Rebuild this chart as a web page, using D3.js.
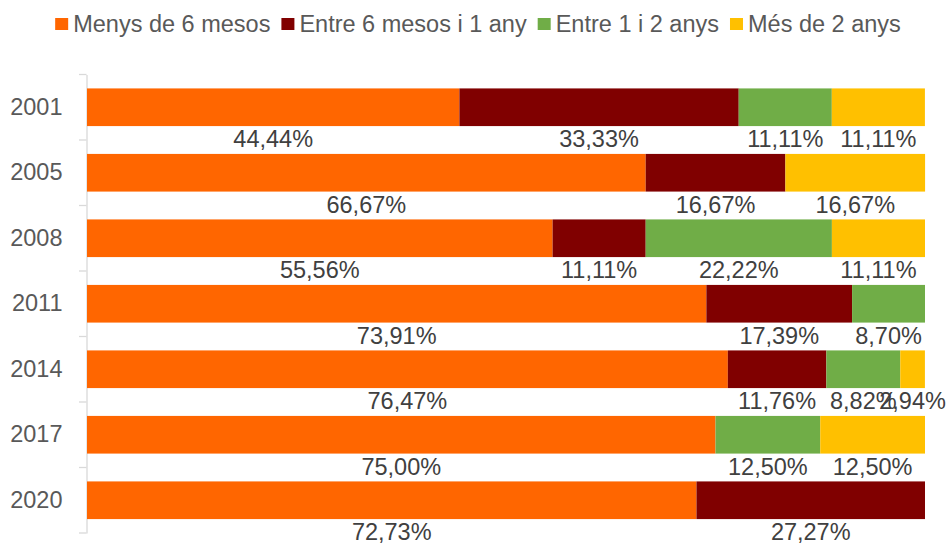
<!DOCTYPE html>
<html lang="ca">
<head>
<meta charset="UTF-8">
<title>Temps</title>
<script src="https://d3js.org/d3.v7.min.js"></script>
<style>
body { margin: 0; background: #fff; font-family: "Liberation Sans", Arial, Helvetica, sans-serif; }
</style>
</head>
<body>
<div id="chart"></div>
<script>
// categories and series
var years = ["2001", "2005", "2008", "2011", "2014", "2017", "2020"];
var seriesNames = ["Menys de 6 mesos", "Entre 6 mesos i 1 any", "Entre 1 i 2 anys", "Més de 2 anys"];
var colors = ["#FF6600", "#800000", "#70AD47", "#FFC000"];

var menys6 = [44.44, 66.67, 55.56, 73.91, 76.47, 75.00, 72.73];
var entre6i1 = [33.33, 16.67, 11.11, 17.39, 11.76, 0, 27.27];
var entre1i2 = [11.11, 0, 22.22, 8.70, 8.82, 12.50, 0];
var mes2 = [11.11, 16.67, 11.11, 0, 2.94, 12.50, 0];

var seriesValues = [menys6, entre6i1, entre1i2, mes2];

var W = 946, H = 544;
var margin = {top: 74.5, right: 21, bottom: 11, left: 87};
var fs = "23.5px";

var svg = d3.select("#chart").append("svg")
  .attr("width", W).attr("height", H);

// build rows for the stack
var rows = years.map(function(y, i) {
  var r = {year: y};
  seriesNames.forEach(function(s, k) { r[s] = seriesValues[k][i]; });
  return r;
});
var stacked = d3.stack().keys(seriesNames)(rows);

var x = d3.scaleLinear().domain([0, 100]).range([margin.left, W - margin.right]);
var y = d3.scaleBand().domain(years)
  .range([margin.top, H - margin.bottom])
  .paddingInner(0.425).paddingOuter(0.2125);

// y axis
var yAxis = svg.append("g")
  .attr("transform", "translate(" + (margin.left - 0.5) + ",0)")
  .call(d3.axisLeft(y).tickSize(0).tickPadding(24));
yAxis.select(".domain").attr("stroke", "#d9d9d9").attr("stroke-width", 1.3);
yAxis.selectAll("text").attr("fill", "#595959").style("font-size", fs)
  .style("font-family", "'Liberation Sans', Arial, sans-serif");

// tick marks between categories
var bounds = [margin.top].concat(years.map(function(d) { return y(d) + y.bandwidth() + y.step() * 0.2125; }));
svg.append("g").selectAll("line").data(bounds).join("line")
  .attr("x1", margin.left - 8).attr("x2", margin.left - 0.5)
  .attr("y1", function(d) { return d; }).attr("y2", function(d) { return d; })
  .attr("stroke", "#d9d9d9").attr("stroke-width", 1.3);

// bars
var layers = svg.append("g").selectAll("g").data(stacked).join("g")
  .attr("fill", function(d, i) { return colors[i]; });
layers.selectAll("rect").data(function(d) { return d; }).join("rect")
  .attr("x", function(d) { return x(d[0]); })
  .attr("y", function(d) { return y(d.data.year); })
  .attr("width", function(d) { return x(d[1]) - x(d[0]); })
  .attr("height", y.bandwidth());

// data labels below each segment
var fmt = function(v) { return v.toFixed(2).replace(".", ",") + "%"; };
var labels = svg.append("g");
stacked.forEach(function(layer) {
  layer.forEach(function(d) {
    var v = d[1] - d[0];
    if (v <= 0) return;
    labels.append("text")
      .attr("x", x((d[0] + d[1]) / 2))
      .attr("y", y(d.data.year) + y.bandwidth() + 21)
      .attr("text-anchor", "middle")
      .attr("fill", "#404040")
      .style("font-size", fs)
      .text(fmt(v));
  });
});

// legend
var legend = svg.append("g");
var lx = 0;
seriesNames.forEach(function(s, i) {
  var g = legend.append("g").attr("transform", "translate(" + lx + ",0)");
  g.append("rect").attr("x", 0).attr("y", 18).attr("width", 13).attr("height", 12).attr("fill", colors[i]);
  var t = g.append("text").attr("x", 18).attr("y", 31.5)
    .attr("fill", "#595959").style("font-size", fs).text(s);
  lx += 18 + t.node().getComputedTextLength() + 11;
});
var lw = lx - 11;
legend.attr("transform", "translate(" + (478 - lw / 2) + ",0)");
</script>
</body>
</html>
